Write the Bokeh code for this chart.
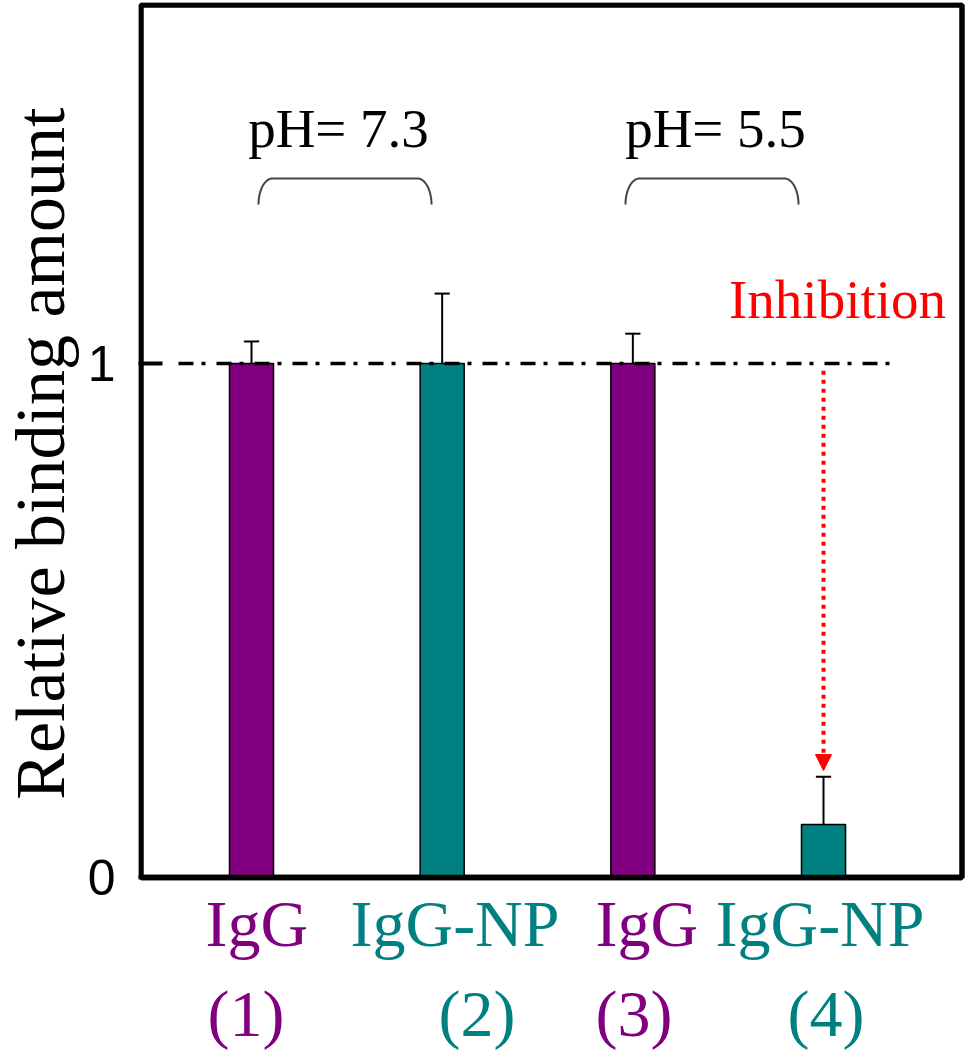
import numpy as np
from bokeh.plotting import figure
from bokeh.layouts import row
from bokeh.models import (Range1d, FixedTicker, Label, Arrow, NormalHead,
                          ColumnDataSource)
from bokeh.embed import file_html
from bokeh.resources import INLINE

# ---------------- data ----------------
categories = ["IgG", "IgG-NP", "IgG", "IgG-NP"]
numbers = ["(1)", "(2)", "(3)", "(4)"]
ph_groups = ["pH= 7.3", "pH= 5.5"]
values = [1.0, 1.0, 1.0, 0.103]
errors = [0.043, 0.136, 0.058, 0.093]
colors = ["#800080", "#008080", "#800080", "#008080"]
y_ticks = [0, 1]
ref_level = 1.0
inhibition_text = "Inhibition"
y_title = "Relative binding amount"

# ---------------- layout ----------------
positions = np.arange(1, len(values) + 1).astype(float)
vals = np.array(values)
errs = np.array(errors)
SERIF = "Liberation Serif"
SANS = "Liberation Sans"

W, H = 966, 1050
TW = 84                # width of the strip holding the y title
BL, BR, BT = 138, 1, 2  # page pixel of the frame's left edge, right / top borders
PX_X = 190.67          # pixels per unit on x
PX_Y = 514.0           # pixels per unit on y
ZERO_Y = 877           # pixel row of y = 0
X0 = 1 - (251 - BL) / PX_X
X1 = X0 + (W - BL - BR) / PX_X
Y1 = (ZERO_Y - BT) / PX_Y
Y0 = -(H - ZERO_Y) / PX_Y
SHIFT = 0.34           # em offset of the rendered alphabetic baseline


def text_y(baseline_px, size_px):
    return (ZERO_Y - (baseline_px - SHIFT * size_px)) / PX_Y


def tx(px):
    return 1 + (px - 251) / PX_X


# ---- strip with the rotated y-axis title ----
ft = figure(width=TW, height=H, x_range=Range1d(0, TW), y_range=Range1d(0, H),
            output_backend="svg", toolbar_location=None,
            min_border_left=0, min_border_right=0, min_border_top=0, min_border_bottom=0)
ft.axis.visible = False
ft.grid.visible = False
ft.outline_line_color = None
ft.background_fill_color = "white"
ft.border_fill_color = "white"
ft.add_layout(Label(x=64 - SHIFT * 70, y=H - 452, text=y_title, angle=np.pi / 2,
                    text_align="center", text_baseline="alphabetic",
                    text_font=SERIF, text_font_size="70px", text_color="black"))

# ---- main chart ----
p = figure(width=W - TW, height=H,
           x_range=Range1d(X0, X1), y_range=Range1d(Y0, Y1),
           output_backend="svg", toolbar_location=None,
           min_border_left=BL - TW, min_border_right=BR,
           min_border_top=BT, min_border_bottom=0)
p.xaxis.visible = False
p.grid.visible = False
p.background_fill_color = "white"
p.border_fill_color = "white"
p.outline_line_color = None

ax = p.yaxis[0]
ax.ticker = FixedTicker(ticks=y_ticks)
ax.axis_line_color = None
ax.major_tick_in = 24
ax.major_tick_out = 0
ax.major_tick_line_width = 4
ax.major_tick_line_color = "black"
ax.minor_tick_line_color = None
ax.major_label_text_font = SANS
ax.major_label_text_font_size = "50px"
ax.major_label_text_color = "black"
ax.major_label_standoff = 23

# plot box
p.quad(left=X0 + 2.5 / PX_X, right=X1 - 3.5 / PX_X, top=Y1 - 2.5 / PX_Y, bottom=0,
       fill_color=None, line_color="black", line_width=5.5)

# bars
src = ColumnDataSource(dict(x=positions, top=vals, color=colors))
p.vbar(x="x", top="top", bottom=0, width=0.231, source=src,
       fill_color="color", line_color="black", line_width=1.5)

# error bars (upper only)
tops = vals + errs
p.segment(x0=positions, y0=vals, x1=positions, y1=tops, line_color="black", line_width=2)
p.segment(x0=positions - 0.04, y0=tops, x1=positions + 0.04, y1=tops,
          line_color="black", line_width=2)

# bottom edge over the bars' outlines
p.segment(x0=[X0 + 2.5 / PX_X], y0=[0], x1=[X1 - 3.5 / PX_X], y1=[0],
          line_color="black", line_width=5.5)

# reference dash-dot line
p.line(x=[tx(178), tx(890)], y=[ref_level, ref_level],
       line_color="black", line_width=3.5, line_dash="15 8 4 11")

# red dotted inhibition arrow
p.add_layout(Arrow(x_start=positions[3], y_start=ref_level - 0.014,
                   x_end=positions[3], y_end=0.208,
                   line_color="red", line_width=4, line_dash="4 5",
                   end=NormalHead(size=16, fill_color="red", line_color="red", line_width=1)))
p.add_layout(Label(x=tx(837), y=text_y(318, 55), text=inhibition_text, text_align="center",
                   text_baseline="alphabetic", text_font=SERIF,
                   text_font_size="55px", text_color="red"))

# brackets with pH labels
rx = 14 / PX_X
ry = 26 / PX_Y
t = np.linspace(0, np.pi / 2, 20)
ytop = (ZERO_Y - 178) / PX_Y
for (bx0, bx1), txt, cx in zip([(tx(258), tx(431)), (tx(625), tx(798))], ph_groups,
                               [tx(338), tx(715)]):
    lx = bx0 + rx - rx * np.cos(t)
    ly = ytop - ry + ry * np.sin(t)
    rxs = bx1 - rx + rx * np.cos(t[::-1])
    rys = ytop - ry + ry * np.sin(t[::-1])
    p.line(x=np.concatenate([lx, rxs]), y=np.concatenate([ly, rys]),
           line_color="#444444", line_width=2)
    p.add_layout(Label(x=cx, y=text_y(147, 55), text=txt, text_align="center",
                       text_baseline="alphabetic", text_font=SERIF,
                       text_font_size="55px", text_color="black"))

# category labels below the box
cat_left = [205, 350, 595, 715]
num_left = [207, 438, 595, 787]
for c, n, col, cx, nx in zip(categories, numbers, colors, cat_left, num_left):
    p.add_layout(Label(x=tx(cx), y=text_y(945, 66), text=c, text_align="left",
                       text_baseline="alphabetic", text_font=SERIF,
                       text_font_size="66px", text_color=col))
    p.add_layout(Label(x=tx(nx), y=text_y(1035, 66), text=n, text_align="left",
                       text_baseline="alphabetic", text_font=SERIF,
                       text_font_size="66px", text_color=col))

layout = row(ft, p, spacing=0)
open("out.html", "w").write(file_html(layout, INLINE))
